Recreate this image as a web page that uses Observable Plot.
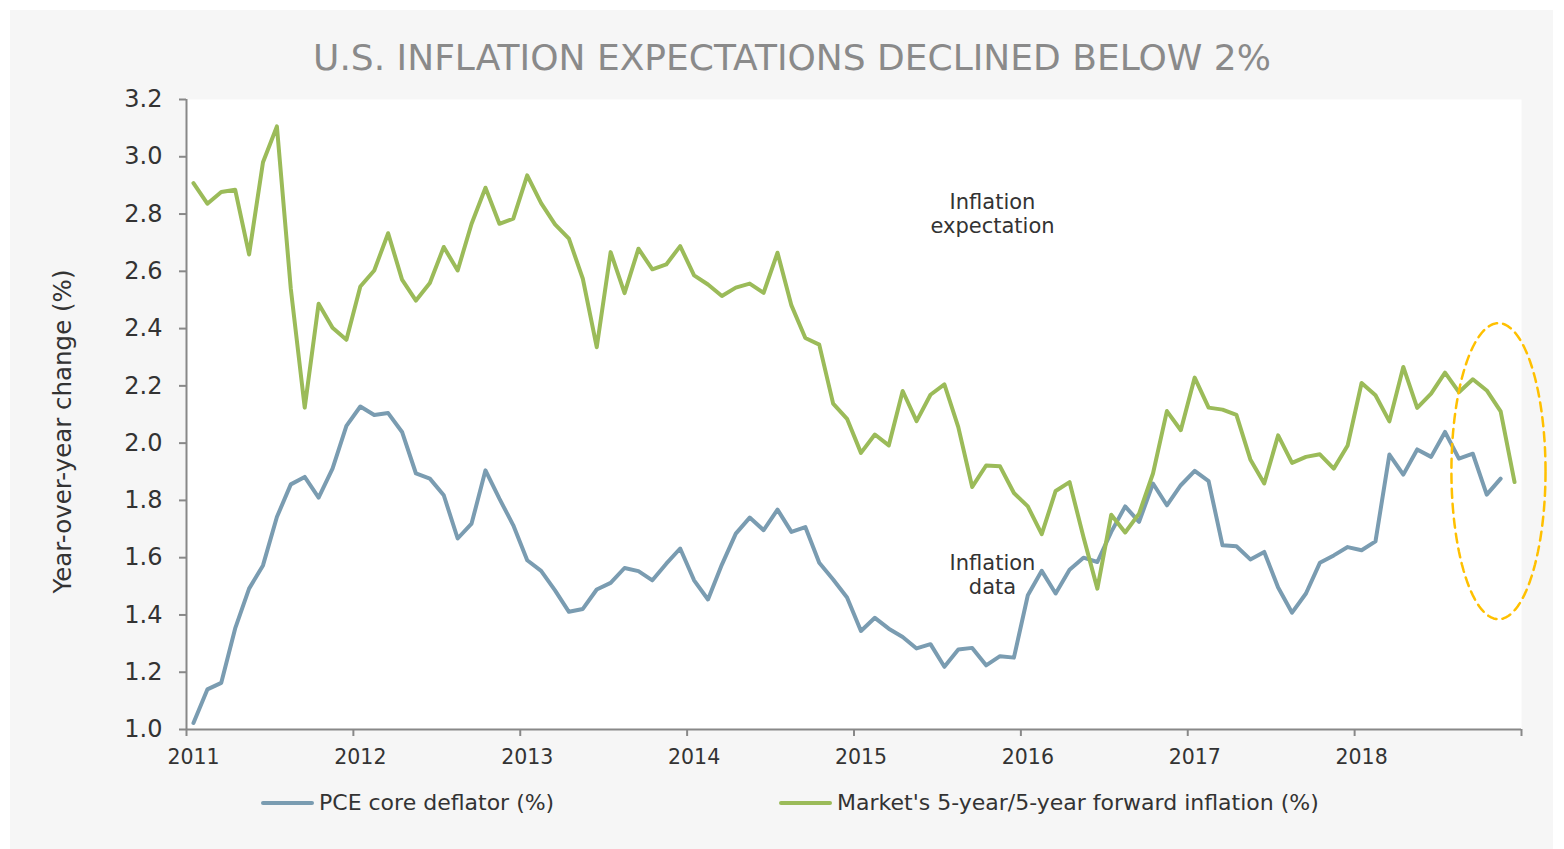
<!DOCTYPE html>
<html>
<head>
<meta charset="utf-8">
<script src="https://cdn.jsdelivr.net/npm/d3@7"></script>
<script src="https://cdn.jsdelivr.net/npm/@observablehq/plot@0.6"></script>
<style>
  html, body { margin: 0; padding: 0; background: #ffffff; }
  body { width: 1564px; height: 849px; position: relative; overflow: hidden; font-family: "DejaVu Sans", Verdana, sans-serif; }
  #panel { position: absolute; left: 10px; top: 10px; width: 1543px; height: 839px; background: #f6f6f6; }
  #title { position: absolute; left: 10px; top: 36px; width: 1564px; text-align: center; font-size: 36px; color: #8a8a8a; line-height: 44px; white-space: nowrap; }
  #chart { position: absolute; left: 0; top: 90px; }
  #legend { position: absolute; top: 791px; left: 0; height: 24px; font-size: 22px; color: #333; }
  .item { position: absolute; top: 0; white-space: nowrap; line-height: 24px; }
  .sw { display: inline-block; width: 53px; height: 4px; vertical-align: middle; margin-right: 5px; position: relative; top: -1px; border-radius: 2px; }
</style>
</head>
<body>
<div id="panel"></div>
<div id="title">U.S. INFLATION EXPECTATIONS DECLINED BELOW 2%</div>
<div id="chart"></div>
<div id="legend">
  <div class="item" style="left:261px"><span class="sw" style="background:#7a9cb1"></span>PCE core deflator (%)</div>
  <div class="item" style="left:779px"><span class="sw" style="background:#9bbb59"></span>Market's 5-year/5-year forward inflation (%)</div>
</div>
<script>
// Monthly data, starting January 2011
const startYear = 2011;
const pceCore = [1.023,1.14,1.163,1.353,1.492,1.573,1.742,1.856,1.882,1.81,1.911,2.06,
  2.128,2.098,2.105,2.039,1.894,1.876,1.818,1.667,1.719,1.905,1.806,1.713,
  1.591,1.554,1.486,1.411,1.421,1.489,1.512,1.564,1.553,1.521,1.579,1.632,
  1.521,1.454,1.576,1.684,1.74,1.696,1.768,1.69,1.707,1.582,1.524,1.461,
  1.344,1.39,1.352,1.323,1.283,1.298,1.219,1.279,1.285,1.224,1.256,1.251,
  1.469,1.554,1.475,1.558,1.6,1.585,1.69,1.779,1.725,1.859,1.783,1.853,
  1.903,1.867,1.643,1.64,1.594,1.62,1.496,1.408,1.475,1.582,1.608,1.637,
  1.626,1.657,1.96,1.89,1.978,1.952,2.039,1.946,1.963,1.82,1.876];
const forward5y5y = [2.908,2.836,2.877,2.885,2.659,2.981,3.106,2.539,2.124,2.487,2.403,2.361,
  2.547,2.603,2.733,2.571,2.498,2.559,2.685,2.603,2.766,2.892,2.766,2.784,
  2.935,2.838,2.764,2.714,2.574,2.335,2.667,2.524,2.679,2.607,2.624,2.688,
  2.586,2.554,2.514,2.543,2.557,2.525,2.665,2.481,2.367,2.344,2.138,2.085,
  1.966,2.03,1.992,2.182,2.077,2.169,2.205,2.056,1.847,1.922,1.919,1.826,
  1.779,1.682,1.833,1.864,1.672,1.492,1.75,1.688,1.754,1.894,2.112,2.045,
  2.229,2.124,2.117,2.099,1.943,1.859,2.027,1.931,1.952,1.961,1.911,1.992,
  2.21,2.167,2.076,2.266,2.123,2.173,2.246,2.178,2.223,2.184,2.111,1.864];
const xTickYears = [2011,2012,2013,2014,2015,2016,2017,2018,2019];
const xLabelYears = [2011,2012,2013,2014,2015,2016,2017,2018];
const yTicks = [1.0,1.2,1.4,1.6,1.8,2.0,2.2,2.4,2.6,2.8,3.0,3.2];
const annotations = [
  {x: 2015.83, y: 2.802, text: "Inflation\nexpectation"},
  {x: 2015.83, y: 1.542, text: "Inflation\ndata"}
];
const highlight = {cx: 2018.862, cy: 1.902, rx: 0.282, ry: 0.517};

const toRows = (arr) => arr.map((v, i) => ({t: startYear + (i + 0.5) / 12, v}));
const pceRows = toRows(pceCore);
const fwdRows = toRows(forward5y5y);
const ellipse = d3.range(0, 121).map(k => {
  const a = (k / 120) * 2 * Math.PI;
  return {x: highlight.cx + highlight.rx * Math.cos(a), y: highlight.cy + highlight.ry * Math.sin(a)};
});

const chart = Plot.plot({
  width: 1564,
  height: 690,
  marginLeft: 186,
  marginRight: 43,
  marginTop: 9,
  marginBottom: 51,
  x: {domain: [2011, 2019]},
  y: {domain: [1.0, 3.2]},
  style: {fontFamily: "DejaVu Sans, sans-serif", background: "transparent", color: "#333", overflow: "visible"},
  marks: [
    Plot.frame({fill: "white", stroke: null}),
    Plot.axisY({ticks: yTicks, tickSize: 7, tickPadding: 17, tickFormat: d => d.toFixed(1), fontSize: 24, stroke: "#888", strokeWidth: 2, fill: "#333", label: null}),
    Plot.axisX({ticks: xTickYears, tickSize: 7, tickFormat: () => "", stroke: "#888", strokeWidth: 2, label: null}),
    Plot.text(xLabelYears, {x: d => d + 0.5 / 12, y: 1.0, text: d => String(d), dy: 20, lineAnchor: "top", fontSize: 20.5, fill: "#333"}),
    Plot.ruleX([2011], {stroke: "#888", strokeWidth: 2}),
    Plot.ruleY([1.0], {stroke: "#888", strokeWidth: 2}),
    Plot.text(["Year-over-year change (%)"], {frameAnchor: "left", textAnchor: "middle", rotate: -90, dx: -123, dy: 17, fontSize: 24.5, fill: "#333"}),
    Plot.line(pceRows, {x: "t", y: "v", stroke: "#7a9cb1", strokeWidth: 4, strokeLinejoin: "round", strokeLinecap: "round"}),
    Plot.line(fwdRows, {x: "t", y: "v", stroke: "#9bbb59", strokeWidth: 4, strokeLinejoin: "round", strokeLinecap: "round"}),
    Plot.text(annotations, {x: "x", y: "y", text: "text", fontSize: 21, fill: "#333", lineHeight: 1.14}),
    Plot.line(ellipse, {x: "x", y: "y", stroke: "#FFC000", strokeWidth: 2.5, strokeDasharray: "9,6"})
  ]
});
document.getElementById("chart").appendChild(chart);
</script>
</body>
</html>
